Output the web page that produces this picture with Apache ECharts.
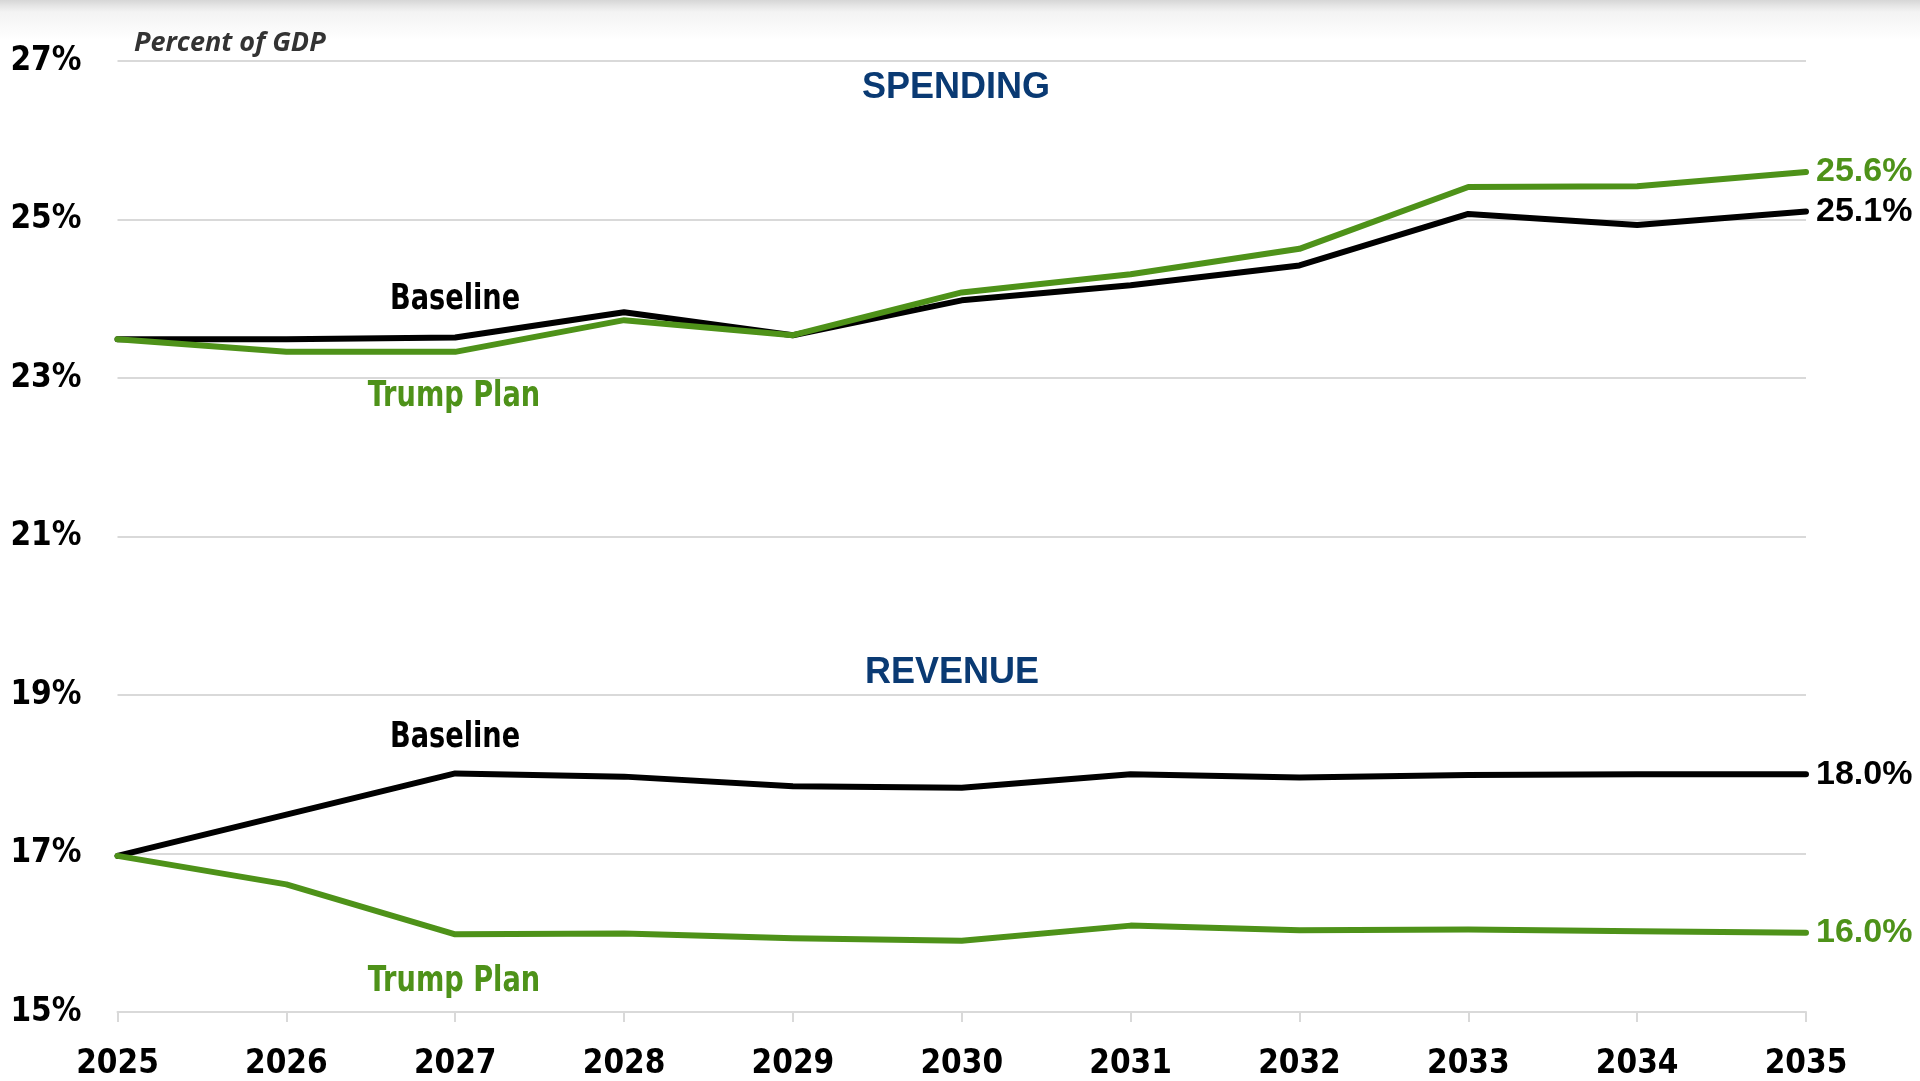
<!DOCTYPE html>
<html>
<head>
<meta charset="utf-8">
<script src="https://cdn.jsdelivr.net/npm/echarts@6/dist/echarts.min.js"></script>
<style>
  html, body { margin: 0; padding: 0; background: #ffffff; }
  #chart { width: 1920px; height: 1081px; }
</style>
</head>
<body>
<div id="chart"></div>
<script>
// Fiscal years on the horizontal axis
const years = ['2025', '2026', '2027', '2028', '2029', '2030', '2031', '2032', '2033', '2034', '2035'];

// Outlays, percent of GDP
const spendingBaseline = [23.49, 23.49, 23.51, 23.83, 23.54, 23.98, 24.17, 24.42, 25.07, 24.93, 25.1];
const spendingPlan     = [23.49, 23.33, 23.33, 23.73, 23.54, 24.08, 24.31, 24.63, 25.41, 25.42, 25.6];

// Receipts, percent of GDP
const revenueBaseline = [16.97, 17.49, 18.01, 17.97, 17.85, 17.83, 18.0, 17.96, 17.99, 18.0, 18.0];
const revenuePlan     = [16.97, 16.61, 15.98, 15.99, 15.93, 15.90, 16.09, 16.03, 16.04, 16.02, 16.0];

// Vertical axis ticks
const yTicks = [15, 17, 19, 21, 23, 25, 27];

const BLACK = '#000000';
const GREEN = '#4e9219';
const NAVY = '#0a3a73';
const GRID = '#d9d9d9';
const NARROW = "'Liberation Sans Narrow', 'DejaVu Sans Condensed', 'Liberation Sans', sans-serif";
const SANS = "'Liberation Sans', Arial, sans-serif";

const chart = echarts.init(document.getElementById('chart'), null, { renderer: 'canvas' });

function lineSeries(name, data, color) {
  return {
    name: name,
    type: 'line',
    data: data,
    symbol: 'none',
    showSymbol: false,
    silent: true,
    lineStyle: { color: color, width: 6, cap: 'round', join: 'round' },
    endLabel: {
      show: true,
      distance: 10,
      color: color,
      fontFamily: SANS,
      fontWeight: 'bold',
      fontSize: 34,
      formatter: p => Number(p.value).toFixed(1) + '%'
    },
    animation: false
  };
}

// Condensed bold caption placed beside a pair of lines
function note(text, x, y, color) {
  return {
    type: 'text',
    x: x,
    y: y,
    scaleX: 0.84,
    style: {
      text: text,
      fill: color,
      font: 'bold 36px ' + NARROW,
      align: 'center',
      verticalAlign: 'middle'
    },
    silent: true
  };
}

// Section heading (SPENDING / REVENUE)
function heading(text, x, y) {
  return {
    type: 'text',
    x: x,
    y: y,
    style: {
      text: text,
      fill: NAVY,
      font: 'bold 36px ' + SANS,
      align: 'center',
      verticalAlign: 'middle'
    },
    silent: true
  };
}

const option = {
  backgroundColor: '#ffffff',
  animation: false,
  grid: { left: 117.5, right: 114, top: 61, bottom: 68.5, containLabel: false },
  xAxis: {
    type: 'category',
    data: years,
    boundaryGap: false,
    axisLine: { show: true, lineStyle: { color: GRID, width: 2 } },
    axisTick: { show: true, length: 10, lineStyle: { color: GRID, width: 2 } },
    axisLabel: {
      margin: 36,
      color: '#000000',
      fontFamily: NARROW,
      fontWeight: 'bold',
      fontSize: 33,
      interval: 0
    },
    splitLine: { show: false }
  },
  yAxis: {
    type: 'value',
    min: yTicks[0],
    max: yTicks[yTicks.length - 1],
    interval: 2,
    axisLine: { show: false },
    axisTick: { show: false },
    axisLabel: {
      margin: 36,
      color: '#000000',
      fontFamily: NARROW,
      fontWeight: 'bold',
      fontSize: 33,
      formatter: v => v + '%'
    },
    splitLine: { show: true, lineStyle: { color: GRID, width: 2 } }
  },
  series: [
    lineSeries('Spending baseline', spendingBaseline, BLACK),
    lineSeries('Spending plan', spendingPlan, GREEN),
    lineSeries('Revenue baseline', revenueBaseline, BLACK),
    lineSeries('Revenue plan', revenuePlan, GREEN)
  ],
  graphic: [
    {
      type: 'rect',
      shape: { x: 0, y: 0, width: 1920, height: 40 },
      style: {
        fill: new echarts.graphic.LinearGradient(0, 0, 0, 1, [
          { offset: 0, color: '#d6d6d6' },
          { offset: 0.15, color: '#e6e6e6' },
          { offset: 0.3, color: '#f3f3f3' },
          { offset: 1, color: '#ffffff' }
        ])
      },
      silent: true,
      z: -10
    },
    {
      type: 'text',
      x: 134,
      y: 43,
      style: {
        text: 'Percent of GDP',
        fill: '#333333',
        font: 'italic bold 27px "Open Sans", sans-serif',
        align: 'left',
        verticalAlign: 'middle'
      },
      silent: true
    },
    heading('SPENDING', 956, 88),
    heading('REVENUE', 952, 673),
    note('Baseline', 455, 300, BLACK),
    note('Trump Plan', 454, 396.5, GREEN),
    note('Baseline', 455, 737.5, BLACK),
    note('Trump Plan', 454, 981.5, GREEN)
  ]
};

chart.setOption(option);
</script>
</body>
</html>
